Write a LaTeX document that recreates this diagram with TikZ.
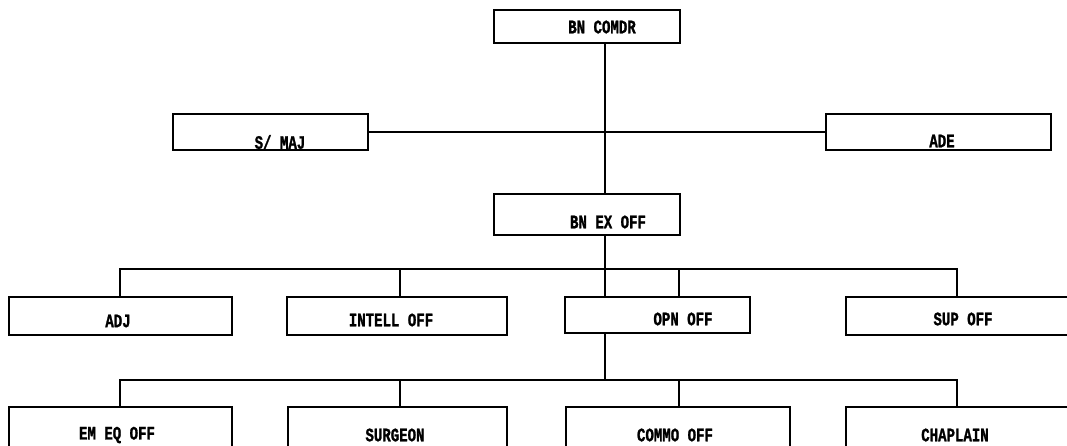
\documentclass[tikz,border=0pt]{standalone}
\usepackage{fontspec}
\newfontfamily\labfont[FakeStretch=0.74,BoldFeatures={FakeBold=1.3}]{Liberation Mono}
\begin{document}
\begin{tikzpicture}[x=1pt,y=-1pt,
  box/.style={draw, line width=1.7pt, inner sep=0pt, outer sep=0pt, anchor=north west},
  lab/.style={inner sep=0pt, font=\labfont\bfseries\fontsize{19}{19}\selectfont},
  conn/.style={line width=1.7pt}]
\useasboundingbox (0,0) rectangle (1067,446);
\clip (0,0) rectangle (1067,446);
% boxes
\node[box, minimum width=186pt, minimum height=33pt] (comdr) at (494,10) {};
\node[box, minimum width=195pt, minimum height=36pt] (smaj) at (173,114) {};
\node[box, minimum width=225pt, minimum height=36pt] (ade) at (826,114) {};
\node[box, minimum width=186pt, minimum height=41pt] (exoff) at (494,194) {};
\node[box, minimum width=223pt, minimum height=38pt] (adj) at (9,297) {};
\node[box, minimum width=220pt, minimum height=38pt] (intell) at (287,297) {};
\node[box, minimum width=185pt, minimum height=36pt] (opn) at (565,297) {};
\node[box, minimum width=230pt, minimum height=38pt] (sup) at (846,297) {};
\node[box, minimum width=223pt, minimum height=40pt] (emeq) at (9,407) {};
\node[box, minimum width=219pt, minimum height=40pt] (surg) at (288,407) {};
\node[box, minimum width=224pt, minimum height=40pt] (commo) at (566,407) {};
\node[box, minimum width=230pt, minimum height=40pt] (chap) at (846,407) {};
% labels
\node[lab] (tcomdr) at (602,27) {BN COMDR};
\node[lab] (tsmaj) at (280,142) {S/ MAJ};
\node[lab] (tade) at (942,141) {ADE};
\node[lab] (texoff) at (608,222) {BN EX OFF};
\node[lab] (tadj) at (118,321) {ADJ};
\node[lab] (tintell) at (391,320) {INTELL OFF};
\node[lab] (topn) at (683,319) {OPN OFF};
\node[lab] (tsup) at (963,319) {SUP OFF};
\node[lab] (temeq) at (117,435) {EM EQ OFF};
\node[lab] (tsurg) at (395,435) {SURGEON};
\node[lab] (tcommo) at (675,435) {COMMO OFF};
\node[lab] (tchap) at (955,435) {CHAPLAIN};
% coordinates for vertical lines
\coordinate (xmain) at (605,0);
\coordinate (xa) at (120,0);
\coordinate (xb) at (400,0);
\coordinate (xc) at (679,0);
\coordinate (xd) at (957,0);
\coordinate (bus1) at (0,269);
\coordinate (bus2) at (0,380);
% connectors
\draw[conn] (comdr.south -| xmain) -- (exoff.north -| xmain);
\draw[conn] (smaj.east) -- (ade.west);
\draw[conn] (exoff.south -| xmain) -- (opn.north -| xmain);
\draw[conn] (adj.north -| xa) -- (bus1 -| xa) -- (bus1 -| xd) -- (sup.north -| xd);
\draw[conn] (bus1 -| xb) -- (intell.north -| xb);
\draw[conn] (bus1 -| xc) -- (opn.north -| xc);
\draw[conn] (opn.south -| xmain) -- (bus2 -| xmain);
\draw[conn] (emeq.north -| xa) -- (bus2 -| xa) -- (bus2 -| xd) -- (chap.north -| xd);
\draw[conn] (bus2 -| xb) -- (surg.north -| xb);
\draw[conn] (bus2 -| xc) -- (commo.north -| xc);
\end{tikzpicture}
\end{document}
